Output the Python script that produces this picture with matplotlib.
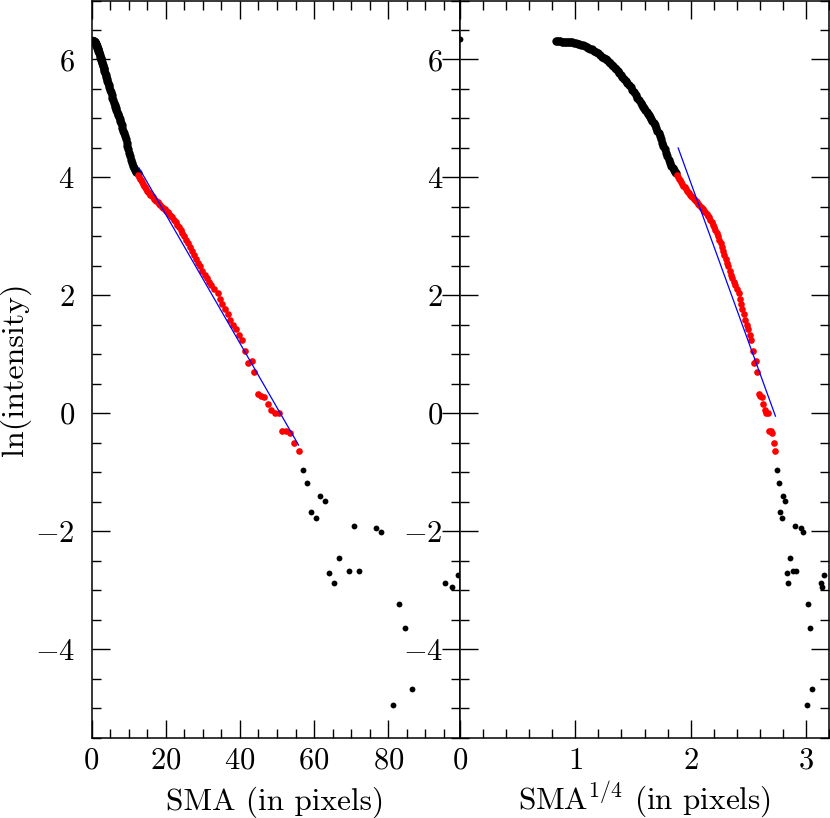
import numpy as np
import matplotlib.pyplot as plt
from matplotlib.ticker import MultipleLocator

plt.rcParams['font.family'] = 'serif'
plt.rcParams['font.serif'] = ['cmr10']
plt.rcParams['mathtext.fontset'] = 'cm'
plt.rcParams['axes.formatter.use_mathtext'] = True
plt.rcParams['axes.unicode_minus'] = True

# centre pixel
sma_centre = [0.0]
lnI_centre = [6.34]

# inner profile (black, not used in fit)
sma_inner = [0.48, 0.51, 0.54, 0.57, 0.61, 0.64, 0.68, 0.72, 0.77, 0.81,
             0.86, 0.91, 0.97, 1.03, 1.09, 1.15, 1.22, 1.30, 1.37, 1.46,
             1.54, 1.64, 1.73, 1.84, 1.95, 2.07, 2.19, 2.32, 2.46,
             2.56, 2.66, 2.77, 2.88, 2.99, 3.11, 3.24, 3.37, 3.50, 3.64,
             3.79, 3.94, 4.10, 4.26, 4.43, 4.61, 4.79, 4.98, 5.18, 5.39,
             5.61, 5.83, 6.06,
             6.21, 6.37, 6.53, 6.69, 6.86, 7.03, 7.20, 7.38, 7.57, 7.76,
             7.95, 8.15, 8.35, 8.56, 8.78, 9.00, 9.22, 9.45, 9.69, 9.93,
             10.18, 10.43, 10.69, 10.96, 11.24, 11.52, 11.80, 12.10, 12.40]
lnI_inner = [6.31, 6.31, 6.31, 6.31, 6.30, 6.30, 6.30, 6.30, 6.30, 6.29,
             6.29, 6.29, 6.28, 6.28, 6.27, 6.26, 6.25, 6.24, 6.23, 6.21,
             6.20, 6.18, 6.17, 6.15, 6.13, 6.11, 6.08, 6.05, 6.03,
             6.01, 5.99, 5.96, 5.94, 5.91, 5.89, 5.86, 5.83, 5.80, 5.77,
             5.74, 5.71, 5.67, 5.64, 5.60, 5.57, 5.53, 5.49, 5.44, 5.40,
             5.35, 5.31, 5.26,
             5.23, 5.20, 5.17, 5.14, 5.11, 5.08, 5.05, 5.02, 4.99, 4.96,
             4.92, 4.88, 4.84, 4.79, 4.75, 4.70, 4.65, 4.59, 4.54, 4.48,
             4.42, 4.36, 4.30, 4.25, 4.20, 4.16, 4.12, 4.09, 4.07]

# fitted range (red)
sma_fit = [12.50, 12.75, 13.01, 13.27, 13.53, 13.80, 14.08, 14.36, 14.65, 14.94,
           15.24, 15.54, 15.85, 16.17, 16.49, 16.82, 17.16, 17.50, 17.85, 18.21,
           18.57, 18.94, 19.32, 19.71, 20.10, 20.50, 20.91, 21.33, 21.76, 22.19,
           22.64, 23.09, 23.55, 24.02, 24.50, 24.99, 25.49, 26.00, 26.52, 27.05,
           27.59, 28.15, 28.71, 29.28, 29.87, 30.47, 31.08, 31.70, 32.33, 32.98,
           33.97, 34.6, 35.2, 35.9, 36.7, 37.4, 38.2, 38.9, 39.7, 40.5,
           41.3, 42.1, 43.2, 43.9, 44.8, 45.6, 46.6, 47.6, 48.5, 49.5,
           50.5, 51.4, 52.4, 53.5, 54.6, 55.8]
lnI_fit = [4.04, 4.01, 3.98, 3.95, 3.92, 3.89, 3.86, 3.83, 3.80, 3.77,
           3.75, 3.73, 3.70, 3.68, 3.66, 3.64, 3.62, 3.60, 3.58, 3.55,
           3.53, 3.50, 3.48, 3.46, 3.43, 3.41, 3.38, 3.35, 3.32, 3.28,
           3.25, 3.20, 3.15, 3.10, 3.05, 3.00, 2.94, 2.88, 2.82, 2.75,
           2.69, 2.62, 2.55, 2.49, 2.42, 2.35, 2.29, 2.23, 2.17, 2.11,
           2.04, 1.93, 1.85, 1.77, 1.69, 1.58, 1.50, 1.42, 1.33, 1.24,
           1.05, 0.85, 0.88, 0.70, 0.32, 0.29, 0.27, 0.16, 0.06, 0.00,
           0.00, -0.31, -0.30, -0.33, -0.50, -0.64]

# outer points (black)
sma_outer = [56.9, 58.1, 59.2, 60.4, 61.6, 62.9, 64.1, 65.4, 66.7, 69.4,
             70.8, 72.2, 76.6, 78.1, 81.3, 82.9, 84.6, 86.3, 95.2, 97.1, 98.8]
lnI_outer = [-0.97, -1.19, -1.68, -1.77, -1.41, -1.49, -2.71, -2.88, -2.46, -2.67,
             -1.92, -2.68, -1.94, -2.02, -4.95, -3.24, -3.64, -4.67, -2.88, -2.94, -2.75]

# straight-line fits: (intercept, slope) and SMA range
fit_range = [12.8, 55.8]
fit_exp = [5.559, -0.1093]     # ln I vs SMA
fit_dev = [14.72, -5.404]      # ln I vs SMA^(1/4)

fig = plt.figure(figsize=(8.3, 8.18), dpi=100)
W, H = 830.0, 818.0
ax1 = fig.add_axes([91.5 / W, 80.5 / H, 368.1 / W, 737.0 / H])
ax2 = fig.add_axes([459.6 / W, 80.5 / H, 369.8 / W, 737.0 / H])

ms_dense = 6.0
ms_pt = 4.2

for ax, p in ((ax1, 1.0), (ax2, 0.25)):
    f = lambda s: np.asarray(s) ** p
    ax.plot(f(sma_centre), lnI_centre, 'o', color='k', ms=ms_pt, mew=0)
    ax.plot(f(sma_inner), lnI_inner, 'o', color='k', ms=ms_dense, mew=0)
    ax.plot(f(sma_fit), lnI_fit, 'o', color='red', ms=ms_pt + 0.6, mew=0)
    ax.plot(f(sma_outer), lnI_outer, 'o', color='k', ms=ms_pt, mew=0)

xr = np.array(fit_range)
ax1.plot(xr, fit_exp[0] + fit_exp[1] * xr, color='blue', lw=0.9)
xq = xr ** 0.25
ax2.plot(xq, fit_dev[0] + fit_dev[1] * xq, color='blue', lw=0.9)

ax1.set_xlim(0, 99.2)
ax2.set_xlim(0, 3.2)
for ax in (ax1, ax2):
    ax.set_ylim(-5.5, 7)
    ax.yaxis.set_major_locator(MultipleLocator(2))
    ax.yaxis.set_minor_locator(MultipleLocator(0.5))
    ax.tick_params(which='both', direction='in', top=True, right=True,
                   width=1.0, labelsize=22)
    ax.tick_params(axis='x', which='both', pad=7)
    ax.tick_params(axis='y', which='both', pad=12)
    ax.tick_params(which='major', length=13)
    ax.tick_params(which='minor', length=6.5)
    for s in ax.spines.values():
        s.set_linewidth(1.1)
ax1.xaxis.set_major_locator(MultipleLocator(20))
ax1.xaxis.set_minor_locator(MultipleLocator(5))
ax2.xaxis.set_major_locator(MultipleLocator(1))
ax2.xaxis.set_minor_locator(MultipleLocator(0.2))

ax1.set_xlabel('SMA (in pixels)', fontsize=22.5, va='baseline')
ax2.set_xlabel('SMA$^{1/4}$ (in pixels)', fontsize=22.5, va='baseline')
for ax in (ax1, ax2):
    ax.xaxis.set_label_coords(0.5, -0.0975)
ax1.set_ylabel('ln(intensity)', fontsize=23, va='center')
ax1.yaxis.set_label_coords(-0.208, 0.5)

fig.savefig('out.png', dpi=100)
